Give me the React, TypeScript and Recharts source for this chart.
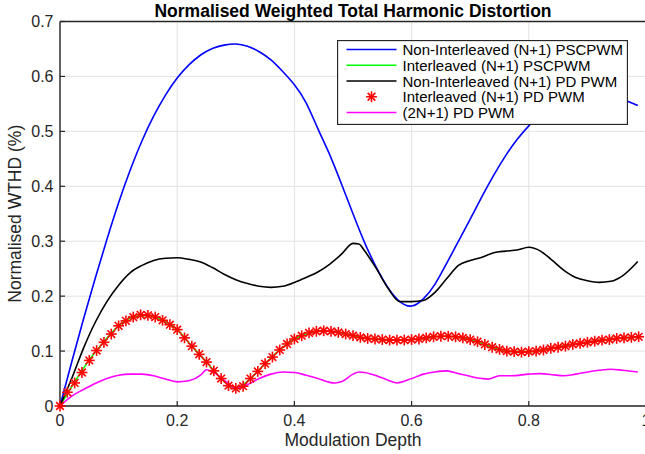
import React from "react";
import { LineChart, Line, XAxis, YAxis, CartesianGrid, Legend, Label } from "recharts";

// modulation depth sample points and WTHD readings, per series
const blueX = [0, 0.02, 0.04, 0.06, 0.08, 0.1, 0.12, 0.14, 0.16, 0.18, 0.2, 0.22, 0.24, 0.26, 0.28, 0.3, 0.32, 0.34, 0.36, 0.38, 0.4, 0.42, 0.44, 0.46, 0.48, 0.5, 0.52, 0.54, 0.56, 0.58, 0.6, 0.62, 0.64, 0.66, 0.68, 0.7, 0.72, 0.74, 0.76, 0.78, 0.8, 0.82, 0.84, 0.86, 0.88, 0.9, 0.92, 0.94, 0.96, 0.98, 0.986];
const blueY = [0, 0.08, 0.158, 0.232, 0.303, 0.37, 0.43, 0.483, 0.528, 0.566, 0.597, 0.621, 0.639, 0.651, 0.657, 0.659, 0.655, 0.645, 0.63, 0.609, 0.585, 0.552, 0.505, 0.458, 0.405, 0.35, 0.297, 0.252, 0.215, 0.19, 0.182, 0.195, 0.222, 0.26, 0.3, 0.34, 0.381, 0.42, 0.455, 0.485, 0.51, 0.53, 0.545, 0.557, 0.565, 0.568, 0.567, 0.564, 0.558, 0.55, 0.547];

const blackX = [0, 0.02, 0.04, 0.06, 0.08, 0.1, 0.12, 0.14, 0.16, 0.18, 0.2, 0.22, 0.24, 0.26, 0.28, 0.3, 0.32, 0.34, 0.36, 0.38, 0.4, 0.42, 0.44, 0.46, 0.48, 0.5, 0.51, 0.52, 0.54, 0.56, 0.58, 0.6, 0.62, 0.64, 0.66, 0.68, 0.7, 0.72, 0.74, 0.76, 0.78, 0.8, 0.82, 0.84, 0.86, 0.88, 0.9, 0.92, 0.94, 0.96, 0.986];
const blackY = [0, 0.05, 0.105, 0.152, 0.19, 0.22, 0.243, 0.256, 0.265, 0.269, 0.27, 0.267, 0.262, 0.252, 0.24, 0.23, 0.223, 0.218, 0.216, 0.218, 0.225, 0.234, 0.244, 0.258, 0.276, 0.296, 0.295, 0.282, 0.25, 0.214, 0.19, 0.19, 0.192, 0.207, 0.232, 0.256, 0.265, 0.271, 0.279, 0.282, 0.284, 0.289, 0.282, 0.265, 0.247, 0.234, 0.228, 0.225, 0.227, 0.237, 0.263];

const redX = [0, 0.0125, 0.025, 0.0375, 0.05, 0.0625, 0.075, 0.0875, 0.1, 0.1125, 0.125, 0.1375, 0.15, 0.1625, 0.175, 0.1875, 0.2, 0.2125, 0.225, 0.2375, 0.25, 0.2625, 0.275, 0.2875, 0.3, 0.3125, 0.325, 0.3375, 0.35, 0.3625, 0.375, 0.3875, 0.4, 0.4125, 0.425, 0.4375, 0.45, 0.4625, 0.475, 0.4875, 0.5, 0.5125, 0.525, 0.5375, 0.55, 0.5625, 0.575, 0.5875, 0.6, 0.6125, 0.625, 0.6375, 0.65, 0.6625, 0.675, 0.6875, 0.7, 0.7125, 0.725, 0.7375, 0.75, 0.7625, 0.775, 0.7875, 0.8, 0.8125, 0.825, 0.8375, 0.85, 0.8625, 0.875, 0.8875, 0.9, 0.9125, 0.925, 0.9375, 0.95, 0.9625, 0.975, 0.9875];
const redY = [0, 0.025, 0.042, 0.061, 0.083, 0.101, 0.116, 0.131, 0.146, 0.155, 0.162, 0.166, 0.165, 0.162, 0.156, 0.148, 0.139, 0.124, 0.109, 0.094, 0.08, 0.064, 0.05, 0.037, 0.032, 0.036, 0.05, 0.063, 0.077, 0.089, 0.102, 0.113, 0.122, 0.128, 0.133, 0.136, 0.137, 0.136, 0.134, 0.131, 0.128, 0.125, 0.123, 0.122, 0.121, 0.12, 0.12, 0.12, 0.121, 0.122, 0.124, 0.126, 0.127, 0.127, 0.126, 0.124, 0.121, 0.117, 0.112, 0.107, 0.103, 0.1, 0.099, 0.098, 0.099, 0.1, 0.102, 0.105, 0.107, 0.109, 0.112, 0.114, 0.116, 0.118, 0.12, 0.121, 0.123, 0.124, 0.125, 0.126];

const greenX = [0, 0.025, 0.05, 0.075, 0.1, 0.125, 0.15, 0.175, 0.2, 0.225, 0.25, 0.275, 0.3, 0.325, 0.35, 0.375, 0.4, 0.425, 0.45, 0.475, 0.5, 0.525, 0.55, 0.575, 0.6, 0.625, 0.65, 0.675, 0.7, 0.725, 0.75, 0.775, 0.8, 0.825, 0.85, 0.875, 0.9, 0.925, 0.95, 0.975, 0.9875];
const greenY = [0, 0.044, 0.084, 0.117, 0.146, 0.162, 0.165, 0.156, 0.139, 0.109, 0.08, 0.05, 0.032, 0.05, 0.077, 0.102, 0.122, 0.133, 0.137, 0.134, 0.128, 0.123, 0.121, 0.12, 0.121, 0.124, 0.127, 0.126, 0.121, 0.112, 0.103, 0.099, 0.099, 0.102, 0.107, 0.112, 0.116, 0.12, 0.123, 0.125, 0.126];

const pinkX = [0, 0.02, 0.04, 0.06, 0.08, 0.1, 0.12, 0.14, 0.16, 0.18, 0.2, 0.22, 0.24, 0.25, 0.26, 0.28, 0.3, 0.32, 0.34, 0.36, 0.38, 0.4, 0.42, 0.44, 0.46, 0.47, 0.48, 0.5, 0.51, 0.52, 0.54, 0.56, 0.575, 0.6, 0.62, 0.64, 0.66, 0.68, 0.7, 0.72, 0.73, 0.75, 0.77, 0.8, 0.82, 0.84, 0.86, 0.88, 0.9, 0.92, 0.94, 0.96, 0.986];
const pinkY = [0, 0.018, 0.03, 0.041, 0.05, 0.056, 0.058, 0.058, 0.055, 0.049, 0.044, 0.046, 0.056, 0.066, 0.063, 0.047, 0.033, 0.039, 0.05, 0.058, 0.062, 0.061, 0.056, 0.05, 0.043, 0.042, 0.044, 0.058, 0.062, 0.061, 0.055, 0.047, 0.042, 0.05, 0.058, 0.062, 0.064, 0.059, 0.054, 0.05, 0.049, 0.055, 0.055, 0.058, 0.059, 0.057, 0.055, 0.058, 0.062, 0.065, 0.067, 0.065, 0.062];

const xTicks = [0, 0.2, 0.4, 0.6, 0.8, 1];
const yTicks = [0, 0.1, 0.2, 0.3, 0.4, 0.5, 0.6, 0.7];

const legendLabels = [
  "Non-Interleaved (N+1) PSCPWM",
  "Interleaved (N+1) PSCPWM",
  "Non-Interleaved (N+1) PD PWM",
  "Interleaved (N+1) PD PWM",
  "(2N+1) PD PWM",
];
const colors = ["#0000ff", "#00ff00", "#000000", "#ff0000", "#ff00ff"];

const FONT = "'Liberation Sans', Arial, Helvetica, sans-serif";
const AXIS = "#262626";

const rows = (xs: number[], ys: number[]) => xs.map((m, i) => ({ m, v: ys[i] }));

function asterisk(cx: number, cy: number, r: number, key?: string) {
  const d = r * 0.707;
  return (
    <g key={key} stroke="#ff0000" strokeWidth={1.6}>
      <line x1={cx - r} y1={cy} x2={cx + r} y2={cy} />
      <line x1={cx} y1={cy - r} x2={cx} y2={cy + r} />
      <line x1={cx - d} y1={cy - d} x2={cx + d} y2={cy + d} />
      <line x1={cx - d} y1={cy + d} x2={cx + d} y2={cy - d} />
    </g>
  );
}

const StarDot = (props: any) => {
  const { cx, cy, index } = props;
  if (cx == null || cy == null) return <g key={`s${index}`} />;
  return asterisk(cx, cy, 5.4, `s${index}`);
};

const fmt = (v: number) => (v === 0 ? "0" : v === 1 ? "1" : String(v));

function LegendBox() {
  return (
    <svg width={291} height={85} style={{ display: "block" }}>
      <rect x={0.5} y={0.5} width={290} height={84} fill="#ffffff" stroke={AXIS} strokeWidth={1.3} />
      {legendLabels.map((lab, i) => {
        const y = 9.5 + i * 15.75;
        return (
          <g key={lab}>
            {i === 3 ? (
              asterisk(34.5, y, 5.4)
            ) : (
              <line x1={9.5} x2={59.5} y1={y} y2={y} stroke={colors[i]} strokeWidth={1.6} />
            )}
            <text x={65.5} y={y} dominantBaseline="central" fontSize={15} fill="#000" fontFamily={FONT}>
              {lab}
            </text>
          </g>
        );
      })}
    </svg>
  );
}

export default function App() {
  return (
    <div style={{ position: "absolute", left: 0, top: 0, width: 645, height: 454, overflow: "hidden", background: "#fff" }}>
      <LineChart
        width={650}
        height={454}
        margin={{ top: 20.5, right: 3, bottom: 0, left: 0 }}
        style={{ fontFamily: FONT }}
      >
        <CartesianGrid stroke="#e2e2e2" strokeWidth={1} />
        <XAxis
          type="number"
          dataKey="m"
          domain={[0, 1]}
          ticks={xTicks}
          tickFormatter={fmt}
          height={48}
          tickSize={-5}
          tickMargin={14}
          axisLine={{ stroke: AXIS, strokeWidth: 1.4 }}
          tickLine={{ stroke: AXIS, strokeWidth: 1.2 }}
          tick={{ fontSize: 16, fill: AXIS }}
        >
          <Label value="Modulation Depth" position="insideBottom" offset={8} fontSize={17.5} fill={AXIS} />
        </XAxis>
        <XAxis
          xAxisId="top"
          orientation="top"
          type="number"
          dataKey="m"
          domain={[0, 1]}
          ticks={xTicks}
          height={1}
          tickSize={-5}
          tick={false}
          axisLine={{ stroke: AXIS, strokeWidth: 1.4 }}
          tickLine={{ stroke: AXIS, strokeWidth: 1.2 }}
        >
          <Label
            value="Normalised Weighted Total Harmonic Distortion"
            position="top"
            offset={4}
            fontSize={17.5}
            fontWeight="bold"
            fill="#000"
          />
        </XAxis>
        <YAxis
          type="number"
          domain={[0, 0.7]}
          ticks={yTicks}
          tickFormatter={fmt}
          width={60}
          tickSize={-5}
          tickMargin={11.5}
          axisLine={{ stroke: AXIS, strokeWidth: 1.4 }}
          tickLine={{ stroke: AXIS, strokeWidth: 1.2 }}
          tick={{ fontSize: 16, fill: AXIS }}
        >
          <Label
            value="Normalised WTHD (%)"
            angle={-90}
            position="insideLeft"
            offset={15}
            fontSize={17.5}
            fill={AXIS}
            style={{ textAnchor: "middle" }}
          />
        </YAxis>
        <YAxis
          yAxisId="right"
          orientation="right"
          type="number"
          domain={[0, 0.7]}
          ticks={yTicks}
          width={1}
          tickSize={-5}
          tick={false}
          axisLine={{ stroke: AXIS, strokeWidth: 1.4 }}
          tickLine={{ stroke: AXIS, strokeWidth: 1.2 }}
        />
        <Legend
          layout="horizontal"
          verticalAlign="middle"
          align="center"
          wrapperStyle={{ left: 337, top: 40, width: 291, height: 85 }}
          content={() => <LegendBox />}
        />
        <Line data={rows(blueX, blueY)} dataKey="v" type="natural" stroke={colors[0]} strokeWidth={1.6} dot={false} isAnimationActive={false} />
        <Line data={rows(greenX, greenY)} dataKey="v" type="monotone" stroke={colors[1]} strokeWidth={1.6} dot={false} isAnimationActive={false} />
        <Line data={rows(blackX, blackY)} dataKey="v" type="monotone" stroke={colors[2]} strokeWidth={1.6} dot={false} isAnimationActive={false} />
        <Line data={rows(redX, redY)} dataKey="v" type="monotone" stroke="none" strokeWidth={0} dot={StarDot} activeDot={false} isAnimationActive={false} />
        <Line data={rows(pinkX, pinkY)} dataKey="v" type="monotone" stroke={colors[4]} strokeWidth={1.6} dot={false} isAnimationActive={false} />
      </LineChart>
    </div>
  );
}
